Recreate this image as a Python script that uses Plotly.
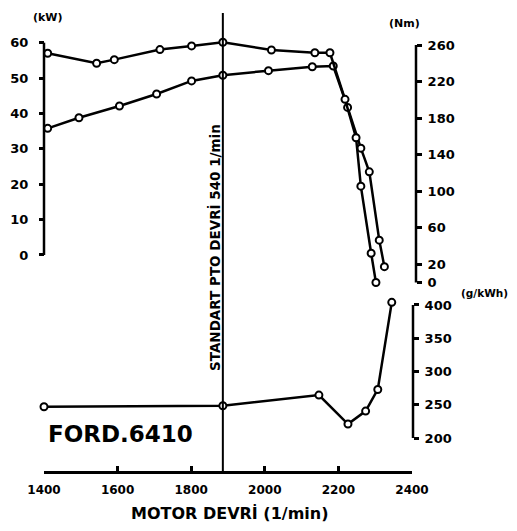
import plotly.graph_objects as go

# ---- data ----
rpm_torque = [1410, 1543, 1591, 1715, 1801, 1886, 2018, 2136, 2177, 2218, 2248, 2261, 2289, 2302]
torque_nm = [251, 240, 244, 255, 259, 263, 254.5, 251.5, 251.5, 200.5, 158.5, 105.5, 32, 0]

rpm_power = [1410, 1495, 1605, 1706, 1801, 1886, 2010, 2129, 2186, 2225, 2261, 2284, 2311, 2325]
power_kw = [35.8, 38.8, 42.1, 45.5, 49.2, 50.8, 52.1, 53.2, 53.4, 41.7, 30.2, 23.5, 4.2, -3.3]

rpm_fuel = [1400, 1886, 2147, 2226, 2274, 2307, 2345]
fuel_gkwh = [247, 248.5, 264.5, 221, 240.5, 273, 404]

pto_rpm = 1886

x_ticks = [1400, 1600, 1800, 2000, 2200, 2400]
kw_ticks = [0, 10, 20, 30, 40, 50, 60]
nm_ticks = [0, 20, 60, 100, 140, 180, 220, 260]
fuel_ticks = [200, 250, 300, 350, 400]

# ---- layout geometry (page body has an 8 px margin) ----
OFF = 8
W, H = 517 - OFF, 531 - OFF
PL, PR, PT, PB = 44, 440, 30, 472  # plot area in page pixels
ML, MT = PL - OFF, PT - OFF
MR, MB = W - (PR - OFF), H - (PB - OFF)
PW, PH = PR - PL, PB - PT


def px(x):
    return (x - PL) / PW


def py(y):
    return (PB - y) / PH


FONT = "DejaVu Sans"
BLACK = "#000000"

fig = go.Figure()

marker = dict(symbol="circle", size=7, color="white", line=dict(color=BLACK, width=2))

fig.add_trace(go.Scatter(x=rpm_torque, y=torque_nm, xaxis="x", yaxis="y2", mode="lines+markers",
                         line=dict(color=BLACK, width=2.5), marker=marker, cliponaxis=False,
                         name="Moment (Nm)"))
fig.add_trace(go.Scatter(x=rpm_power, y=power_kw, xaxis="x", yaxis="y", mode="lines+markers",
                         line=dict(color=BLACK, width=2.5), marker=marker, cliponaxis=False,
                         name="Güç (kW)"))
fig.add_trace(go.Scatter(x=rpm_fuel, y=fuel_gkwh, xaxis="x", yaxis="y3", mode="lines+markers",
                         line=dict(color=BLACK, width=2.5), marker=marker, cliponaxis=False,
                         name="Özgül yakıt tüketimi (g/kWh)"))

upper_dom = [py(285), py(40)]
lower_dom = [py(440), py(300)]

tickfont = dict(family=FONT, size=13, color=BLACK, weight="bold")

fig.update_layout(
    width=W, height=H,
    margin=dict(l=ML, r=MR, t=MT, b=MB, autoexpand=False),
    paper_bgcolor="white", plot_bgcolor="white",
    showlegend=False,
    xaxis=dict(domain=[0, px(412)], range=[1400, 2400], tickvals=x_ticks, automargin=False,
               anchor="free", position=0, showgrid=False, zeroline=False,
               showline=True, linecolor=BLACK, linewidth=2.5,
               ticks="inside", ticklen=5, tickwidth=2.5, tickcolor=BLACK, ticklabelstandoff=6,
               tickfont=dict(family=FONT, size=12, color=BLACK, weight="bold")),
    yaxis=dict(domain=upper_dom, range=[-8.48, 60.76], tickvals=kw_ticks, automargin=False,
               anchor="free", position=0, side="left", showgrid=False, zeroline=False,
               showline=False, ticks="outside", ticklen=5, tickwidth=2.5, tickcolor=BLACK,
               ticklabelstandoff=8, tickfont=tickfont),
    yaxis2=dict(range=[-2.74, 265.5], tickvals=nm_ticks, overlaying="y", automargin=False,
                anchor="free", position=px(416), side="right", showgrid=False, zeroline=False,
                showline=False, ticks="outside", ticklen=5, tickwidth=2.5, tickcolor=BLACK,
                ticklabelstandoff=3, tickfont=tickfont),
    yaxis3=dict(domain=lower_dom, range=[197, 407.5], tickvals=fuel_ticks, automargin=False,
                anchor="free", position=px(413), side="right", showgrid=False, zeroline=False,
                showline=False, ticks="outside", ticklen=5, tickwidth=2.5, tickcolor=BLACK,
                ticklabelstandoff=3, tickfont=tickfont),
)

# axis spines limited to the tick range
fig.add_shape(type="line", xref="paper", yref="y", x0=0, x1=0, y0=kw_ticks[0], y1=kw_ticks[-1],
              line=dict(color=BLACK, width=2.5))
fig.add_shape(type="line", xref="paper", yref="y2", x0=px(416), x1=px(416), y0=nm_ticks[0], y1=nm_ticks[-1],
              line=dict(color=BLACK, width=2.5))
fig.add_shape(type="line", xref="paper", yref="y3", x0=px(413), x1=px(413), y0=fuel_ticks[0], y1=fuel_ticks[-1],
              line=dict(color=BLACK, width=2.5))

# standard PTO speed line
fig.add_shape(type="line", xref="x", yref="paper", x0=pto_rpm, x1=pto_rpm, y0=0, y1=py(13),
              line=dict(color=BLACK, width=2))

annfont = dict(family=FONT, color=BLACK, weight="bold")


def label(text, x, y, size, **kw):
    fig.add_annotation(text=text, x=px(x), y=py(y), xref="paper", yref="paper", showarrow=False,
                       xanchor="center", yanchor="middle", font=dict(size=size, **annfont), **kw)


label("(kW)", 48, 17, 11)
label("(Nm)", 404, 23, 11)
label("(g/kWh)", 484, 293, 10.5)
label("FORD.6410", 120, 434, 23)
label("MOTOR DEVRİ (1/min)", 230, 513, 16)
label("STANDART PTO DEVRİ 540 1/min", 215, 248, 13.5, textangle=-90)

fig.write_html("out.html")
